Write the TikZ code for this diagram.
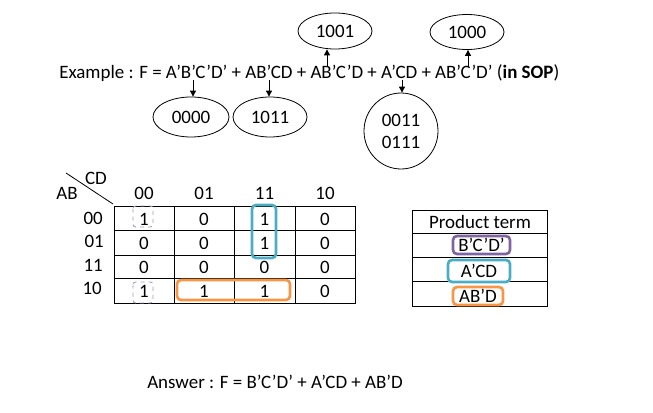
\documentclass[tikz,border=0pt]{standalone}
\usepackage{fontspec}
\setmainfont{Carlito}
\usetikzlibrary{shapes.geometric,arrows.meta}
\definecolor{kpur}{HTML}{8064A2}
\definecolor{kblue}{HTML}{4BACC6}
\definecolor{korange}{HTML}{F79646}
\definecolor{kdash}{HTML}{A697C4}
\begin{document}
\begin{tikzpicture}[x=0.75pt,y=-0.75pt,
  font=\fontsize{14.2}{17}\selectfont,
  oval/.style={draw,ellipse,inner sep=0pt,line width=0.6pt},
  arr/.style={-{Triangle[length=4.5pt,width=4.5pt]},line width=0.7pt},
  grid/.style={line width=0.75pt},
  txt/.style={inner sep=0pt},
  grp/.style={draw,rounded corners=3pt,line width=2pt},
  dgrp/.style={draw=kdash,dashed,rounded corners=2pt,line width=0.7pt}]
\useasboundingbox (0,0) rectangle (653,413);

% example line
\node[txt,anchor=base west] (ex) at (59,79) {Example : F = A’B’C’D’ + AB’CD + AB’C’D + A’CD + AB’C’D’ (\textbf{in SOP})};

% ellipses
\node[oval,minimum width=55.5pt,minimum height=27pt] (e1001) at (335,31) {1001};
\node[oval,minimum width=55.5pt,minimum height=26.25pt] (e1000) at (467,32) {1000};
\node[oval,minimum width=57pt,minimum height=30pt] (e0000) at (191,117) {0000};
\node[oval,minimum width=55.5pt,minimum height=30pt] (e1011) at (270,117) {1011};
\node[oval,minimum width=55.5pt,minimum height=57pt,align=center,font=\fontsize{14.2}{16.5}\selectfont] (e0011) at (401,131) {0011\\0111};

% arrows
\coordinate (a1) at (327,67);
\coordinate (a2) at (468,67);
\coordinate (a3) at (193,80);
\coordinate (a4) at (269,80);
\coordinate (a5) at (402,80);
\draw[arr] (a1) -- (a1 |- e1001.south);
\draw[arr] (a2) -- (a2 |- e1000.south);
\draw[arr] (a3) -- (a3 |- e0000.north);
\draw[arr] (a4) -- (a4 |- e1011.north);
\draw[arr] (a5) -- (a5 |- e0011.north);

% K-map labels
\coordinate (d1) at (66,173);
\coordinate (d2) at (113,204);
\draw[line width=0.6pt] (d1) -- (d2);
\node[txt] (lcd) at (96,178) {CD};
\node[txt] (lab) at (67,193) {AB};
\node[txt] (h1) at (144,193) {00};
\node[txt] (h2) at (204,193) {01};
\node[txt] (h3) at (264.5,193) {11};
\node[txt] (h4) at (325,193) {10};
\node[txt,anchor=east] (r1) at (103,218) {00};
\node[txt,anchor=east] (r2) at (104,241) {01};
\node[txt,anchor=east] (r3) at (103,265) {11};
\node[txt,anchor=east] (r4) at (102,288) {10};

% grid
\draw[grid] (114,207) rectangle (355,303);
\foreach \x in {174,234,295} \draw[grid] (\x,207) -- (\x,303);
\foreach \y in {231,256,279} \draw[grid] (114,\y) -- (355,\y);

% cell values
\foreach \v [count=\i] in {1,0,1,0} {\pgfmathsetmacro\cx{{144,204,264.5,325}[\i-1]}\node[txt] (ca\i) at (\cx,219) {\v};}
\foreach \v [count=\i] in {0,0,1,0} {\pgfmathsetmacro\cx{{144,204,264.5,325}[\i-1]}\node[txt] (cb\i) at (\cx,243.5) {\v};}
\foreach \v [count=\i] in {0,0,0,0} {\pgfmathsetmacro\cx{{144,204,264.5,325}[\i-1]}\node[txt] (cc\i) at (\cx,267.5) {\v};}
\foreach \v [count=\i] in {1,1,1,0} {\pgfmathsetmacro\cx{{144,204,264.5,325}[\i-1]}\node[txt] (cd\i) at (\cx,291) {\v};}

% groups
\draw[grp,draw=kblue] (252,205) rectangle (276,258);
\draw[grp,draw=korange] (177,280) rectangle (290,300);
\draw[dgrp] (133,206) rectangle (153,227);
\draw[dgrp] (133,282) rectangle (153,303);

% product term table
\draw[grid] (412,211) rectangle (547,306);
\foreach \y in {234,258,282} \draw[grid] (412,\y) -- (547,\y);
\node[txt] (pt) at (480,222) {Product term};
\node[grp,draw=kpur,inner sep=0pt,minimum width=42.75pt,minimum height=13.5pt] (p1) at (481.5,245) {B’C’D’};
\node[grp,draw=kblue,inner sep=0pt,minimum width=46.5pt,minimum height=16.5pt] (p2) at (479,271) {A’CD};
\node[grp,draw=korange,inner sep=0pt,minimum width=37.5pt,minimum height=13.5pt] (p3) at (478,296) {AB’D};

% answer
\node[txt,anchor=west] (ans) at (147,382) {Answer : F = B’C’D’ + A’CD + AB’D};
\end{tikzpicture}
\end{document}
